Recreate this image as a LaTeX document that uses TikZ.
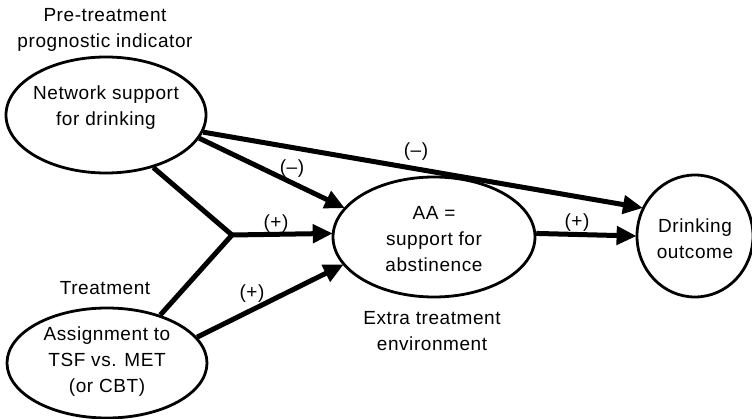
\documentclass[tikz,border=0pt]{standalone}
\usepackage{fontspec}
\setmainfont{Liberation Sans}[LetterSpace=3]
\usetikzlibrary{shapes.geometric,arrows.meta}
\tikzset{
  ell/.style={draw, ellipse, line width=2.8pt, inner sep=0pt},
  txt/.style={align=center, inner sep=0pt, font=\fontsize{19}{26}\selectfont},
  lbl/.style={inner sep=0pt, font=\fontsize{19}{26}\selectfont},
  edge/.style={line width=5pt, line join=miter},
  arr/.style={edge, -{Triangle[length=20pt,width=18pt]}, shorten >=-1pt}
}
\begin{document}
\begin{tikzpicture}[x=1pt,y=-1pt]
\useasboundingbox (0,0) rectangle (752,419);
% ellipses
\node[ell, minimum width=200pt, minimum height=116pt] (net) at (106,115) {};
\node[txt] (nettext) at (106,108) {Network support\\for drinking};
\node[ell, minimum width=200pt, minimum height=110pt] (asg) at (107,363) {};
\node[txt] (asgtext) at (107,362) {Assignment to\\TSF vs. MET\\(or CBT)};
\node[ell, minimum width=202pt, minimum height=120pt] (aa) at (434,237) {};
\node[txt] (aatext) at (434,239) {AA =\\support for\\abstinence};
\node[ell, minimum width=116pt, minimum height=122pt] (out) at (695,236) {};
\node[txt] (outtext) at (695,239) {Drinking\\outcome};
% captions
\node[txt] (pre) at (105,30) {Pre-treatment\\prognostic indicator};
\node[txt] (treat) at (105,288) {Treatment};
\node[txt] (extra) at (432,331) {Extra treatment\\environment};
% connectors
\coordinate (j) at (232,235);
\draw[edge] (net.-48) -- (j) -- (asg.42);
\draw[arr] (j) -- (aa.178);
\draw[arr] (net.-10) -- (out.152);
\draw[arr] (net.-14) -- (aa.162);
\draw[arr] (asg.16) -- (aa.197);
\draw[arr] (aa.2) -- (out.180);
% signs
\node[lbl] (s1) at (292,169) {(–)};
\node[lbl] (s2) at (416,152) {(–)};
\node[lbl] (s3) at (276,224) {(+)};
\node[lbl] (s4) at (252,294) {(+)};
\node[lbl] (s5) at (577,223) {(+)};
\end{tikzpicture}
\end{document}
